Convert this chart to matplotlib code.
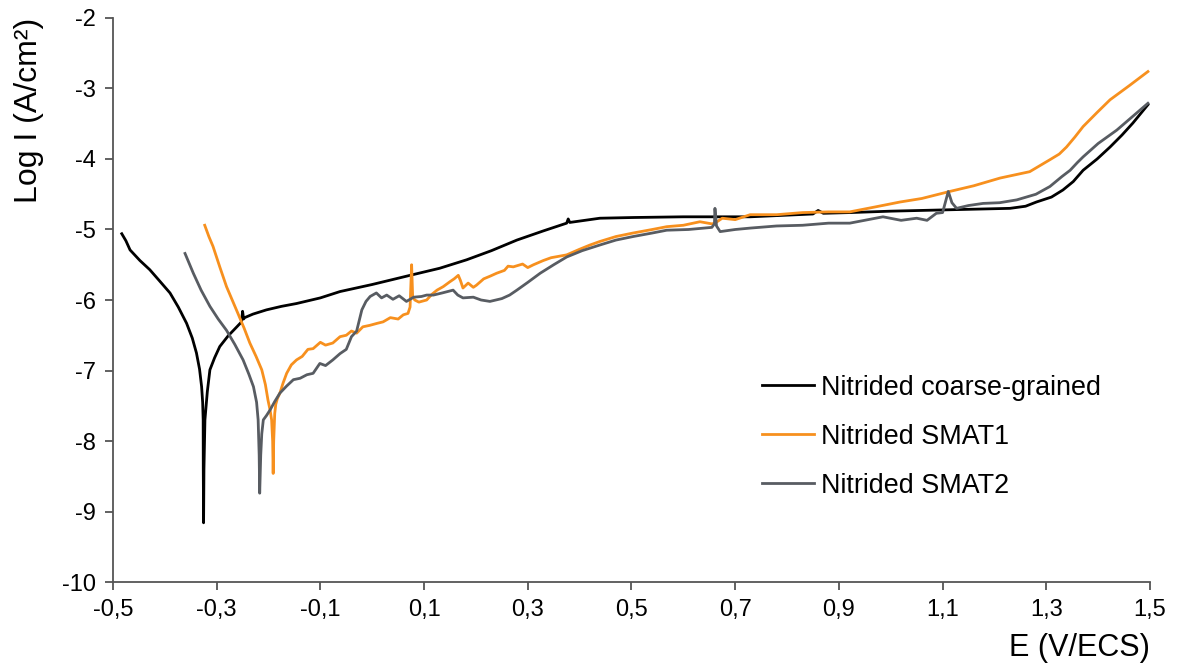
import matplotlib.pyplot as plt
from matplotlib.ticker import FuncFormatter

plt.rcParams['font.family'] = ['Liberation Sans', 'DejaVu Sans']

# Nitrided coarse-grained
e_cg = [-0.483, -0.475, -0.467, -0.448, -0.429, -0.410, -0.390, -0.374, -0.358, -0.347, -0.339,
        -0.333, -0.329, -0.327, -0.326, -0.3258, -0.3252, -0.3245, -0.3226, -0.318, -0.313, -0.304,
        -0.294, -0.278, -0.261, -0.252, -0.250, -0.248, -0.246, -0.230, -0.204, -0.175, -0.146,
        -0.100, -0.062, 0.000, 0.073, 0.130, 0.182, 0.230, 0.279, 0.330, 0.375, 0.378, 0.381,
        0.439, 0.503, 0.600, 0.729, 0.850, 0.860, 0.870, 0.921, 1.000, 1.114, 1.230, 1.260,
        1.281, 1.310, 1.332, 1.352, 1.371, 1.398, 1.423, 1.446, 1.467, 1.496]
i_cg = [-5.06, -5.16, -5.29, -5.44, -5.57, -5.73, -5.90, -6.10, -6.33, -6.54, -6.75,
        -6.98, -7.23, -7.45, -7.70, -8.40, -9.16, -8.40, -7.70, -7.30, -6.99, -6.82,
        -6.66, -6.51, -6.38, -6.31, -6.16, -6.27, -6.25, -6.20, -6.14, -6.09, -6.05,
        -5.97, -5.88, -5.78, -5.65, -5.55, -5.43, -5.30, -5.15, -5.02, -4.91, -4.85, -4.90,
        -4.84, -4.83, -4.82, -4.82, -4.78, -4.73, -4.77, -4.76, -4.74, -4.72, -4.70, -4.67,
        -4.61, -4.54, -4.44, -4.32, -4.16, -4.00, -3.83, -3.66, -3.49, -3.23]

# Nitrided SMAT1
e_s1 = [-0.323, -0.315, -0.307, -0.294, -0.281, -0.270, -0.259, -0.247, -0.236, -0.224, -0.213,
        -0.206, -0.201, -0.197, -0.194, -0.192, -0.191, -0.190, -0.188, -0.186, -0.183, -0.178,
        -0.172, -0.165, -0.156, -0.146, -0.135, -0.124, -0.114, -0.100, -0.090, -0.076, -0.062,
        -0.050, -0.040, -0.030, -0.018, -0.005, 0.010, 0.021, 0.035, 0.050, 0.060, 0.069, 0.073,
        0.076, 0.078, 0.082, 0.090, 0.105, 0.115, 0.125, 0.137, 0.150, 0.158, 0.166, 0.170,
        0.175, 0.185, 0.195, 0.201, 0.215, 0.228, 0.240, 0.255, 0.262, 0.272, 0.290, 0.300,
        0.311, 0.330, 0.345, 0.360, 0.375, 0.400, 0.420, 0.439, 0.470, 0.503, 0.540, 0.568,
        0.600, 0.632, 0.655, 0.661, 0.675, 0.700, 0.729, 0.780, 0.830, 0.880, 0.921, 0.970,
        1.018, 1.060, 1.114, 1.160, 1.211, 1.268, 1.307, 1.325, 1.339, 1.355, 1.371, 1.398,
        1.423, 1.460, 1.496]
i_s1 = [-4.94, -5.10, -5.24, -5.53, -5.81, -6.00, -6.19, -6.40, -6.61, -6.80, -6.99,
        -7.20, -7.42, -7.56, -7.70, -8.00, -8.46, -8.00, -7.61, -7.48, -7.40, -7.32,
        -7.18, -7.04, -6.92, -6.85, -6.80, -6.70, -6.69, -6.60, -6.64, -6.61, -6.52,
        -6.50, -6.44, -6.47, -6.38, -6.36, -6.33, -6.31, -6.25, -6.27, -6.21, -6.19, -6.10,
        -5.50, -5.95, -6.00, -6.03, -6.00, -5.92, -5.86, -5.81, -5.74, -5.70, -5.65, -5.72,
        -5.83, -5.76, -5.82, -5.79, -5.70, -5.66, -5.62, -5.58, -5.52, -5.53, -5.49, -5.54,
        -5.50, -5.44, -5.40, -5.38, -5.36, -5.28, -5.22, -5.17, -5.10, -5.05, -5.00, -4.96,
        -4.94, -4.89, -4.92, -4.91, -4.84, -4.86, -4.79, -4.79, -4.76, -4.75, -4.75, -4.68,
        -4.61, -4.56, -4.46, -4.38, -4.27, -4.18, -4.01, -3.93, -3.83, -3.69, -3.54, -3.34,
        -3.16, -2.96, -2.76]

# Nitrided SMAT2
e_s2 = [-0.361, -0.345, -0.330, -0.313, -0.297, -0.281, -0.265, -0.249, -0.238, -0.229, -0.223,
        -0.220, -0.218, -0.217, -0.215, -0.213, -0.210, -0.204, -0.197, -0.188, -0.178, -0.165,
        -0.152, -0.139, -0.126, -0.114, -0.101, -0.090, -0.076, -0.062, -0.050, -0.040, -0.030,
        -0.020, -0.012, -0.004, 0.008, 0.018, 0.028, 0.040, 0.052, 0.066, 0.080, 0.095, 0.105,
        0.118, 0.135, 0.156, 0.165, 0.175, 0.195, 0.210, 0.227, 0.250, 0.265, 0.279, 0.300,
        0.324, 0.350, 0.375, 0.405, 0.439, 0.470, 0.503, 0.540, 0.568, 0.610, 0.655, 0.660,
        0.661, 0.664, 0.671, 0.700, 0.729, 0.780, 0.830, 0.880, 0.921, 0.985, 1.020, 1.050,
        1.070, 1.088, 1.100, 1.111, 1.118, 1.127, 1.150, 1.178, 1.210, 1.243, 1.280, 1.307,
        1.330, 1.346, 1.360, 1.371, 1.400, 1.436, 1.466, 1.496]
i_s2 = [-5.34, -5.62, -5.86, -6.09, -6.27, -6.43, -6.63, -6.85, -7.05, -7.23, -7.45,
        -7.70, -8.20, -8.74, -8.20, -7.90, -7.70, -7.64, -7.56, -7.44, -7.32, -7.22,
        -7.13, -7.11, -7.06, -7.04, -6.90, -6.93, -6.85, -6.76, -6.70, -6.52, -6.44,
        -6.14, -6.02, -5.95, -5.90, -5.97, -5.93, -5.99, -5.94, -6.02, -5.96, -5.95, -5.93,
        -5.93, -5.90, -5.86, -5.93, -5.97, -5.96, -6.00, -6.02, -5.98, -5.93, -5.86, -5.75,
        -5.62, -5.50, -5.39, -5.30, -5.22, -5.15, -5.10, -5.05, -5.01, -5.00, -4.97, -4.92,
        -4.70, -4.95, -5.03, -5.00, -4.98, -4.95, -4.94, -4.91, -4.91, -4.82, -4.87, -4.84,
        -4.87, -4.77, -4.76, -4.46, -4.62, -4.70, -4.66, -4.63, -4.62, -4.58, -4.50, -4.39,
        -4.25, -4.16, -4.05, -3.97, -3.78, -3.59, -3.40, -3.21]

fig = plt.figure(figsize=(11.79, 6.71), dpi=100)
ax = fig.add_axes([0.0958, 0.1326, 0.8796, 0.8406])

ax.plot(e_cg, i_cg, color='#000000', lw=2.0, label='Nitrided coarse-grained')
ax.plot(e_s1, i_s1, color='#F7901E', lw=2.0, label='Nitrided SMAT1')
ax.plot(e_s2, i_s2, color='#585C62', lw=2.0, label='Nitrided SMAT2')

ax.set_xlim(-0.5, 1.5)
ax.set_ylim(-10, -2)
ax.set_xticks([-0.5, -0.3, -0.1, 0.1, 0.3, 0.5, 0.7, 0.9, 1.1, 1.3, 1.5])
ax.set_yticks(range(-10, -1))
ax.xaxis.set_major_formatter(FuncFormatter(lambda v, p: f"{v:.1f}".replace('.', ',')))
ax.yaxis.set_major_formatter(FuncFormatter(lambda v, p: f"{int(round(v))}"))

for s in ['top', 'right']:
    ax.spines[s].set_visible(False)
for s in ['left', 'bottom']:
    ax.spines[s].set_color('#555555')
    ax.spines[s].set_linewidth(1.3)
ax.tick_params(axis='both', direction='out', length=6, width=1.3, color='#555555',
               labelsize=17, pad=6)

ax.set_xlabel('E (V/ECS)', fontsize=22, loc='right', labelpad=9)
ax.set_ylabel('Log I (A/cm²)', fontsize=23, loc='top', labelpad=13)

ax.legend(loc='lower left', bbox_to_anchor=(0.602, 0.105), frameon=False, fontsize=19.4,
          handlelength=1.95, handletextpad=0.25, labelspacing=0.85)

fig.savefig('out.png', dpi=100)
